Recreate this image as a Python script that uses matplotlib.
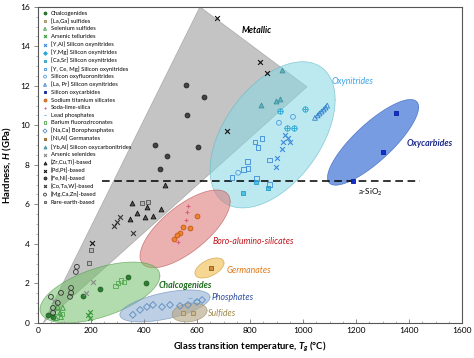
import numpy as np
import matplotlib.pyplot as plt

plt.rcParams['font.family'] = ['Lato', 'DejaVu Sans']
plt.rcParams['mathtext.fontset'] = 'custom'
plt.rcParams['mathtext.rm'] = 'Lato'
plt.rcParams['mathtext.it'] = 'Lato:italic:bold'

# ---- data: glass transition temperature Tg (C) and hardness H (GPa) ----
chalco_T = [340, 408, 234, 170, 38, 57]
chalco_H = [2.33, 2.02, 1.72, 1.37, 0.4, 0.3]
lagas_T = [547, 585]
lagas_H = [0.5, 0.5]
sesulf_T = [75, 94, 83, 87, 68]
sesulf_H = [0.81, 0.76, 0.51, 0.3, 0.25]
astel_T = [196, 189, 196]
astel_H = [0.56, 0.4, 0.25]
yal_T = [932, 943, 925, 951, 921, 902, 898]
yal_H = [9.52, 9.37, 9.16, 9.16, 8.81, 8.35, 7.9]
ymg_T = [913, 1008, 940, 966]
ymg_H = [10.73, 10.84, 9.87, 9.87]
casr_T = [774, 868, 823]
casr_H = [6.58, 6.84, 7.14]
ycemg_T = [819, 845, 830, 872, 789, 774, 792, 732, 823, 872]
ycemg_H = [9.16, 9.32, 8.86, 8.25, 8.15, 7.75, 7.8, 7.34, 7.29, 6.99]
oxyfl_T = [962, 909, 755]
oxyfl_H = [10.43, 10.13, 7.6]
lapr_T = [1045, 1055, 1062, 1070, 1078, 1085, 1091]
lapr_H = [10.38, 10.5, 10.6, 10.7, 10.8, 10.9, 11.0]
oxycarb_T = [1189, 1302, 1351]
oxycarb_H = [7.2, 8.66, 10.63]
natisil_T = [600, 547, 574, 536, 525, 513]
natisil_H = [5.42, 4.86, 4.81, 4.56, 4.46, 4.25]
sls_T = [562, 558, 528, 566]
sls_H = [5.62, 5.22, 4.1, 5.9]
leadp_T = [574, 592, 581]
leadp_H = [1.27, 1.16, 1.01]
bafz_T = [302, 313, 325, 294, 75, 90]
bafz_H = [2.02, 2.13, 2.07, 1.87, 0.55, 0.45]
borop_T = [358, 385, 411, 434, 468, 498, 536, 566, 600, 619]
borop_H = [0.41, 0.66, 0.81, 0.91, 0.81, 0.91, 0.86, 0.91, 1.06, 1.16]
nial_T = [653]
nial_H = [2.78]
ybal_T = [842, 898, 913, 921]
ybal_H = [11.04, 11.24, 11.34, 12.8]
assel_T = [181, 207, 62]
assel_H = [1.5, 2.08, 1.1]
zrcuti_T = [355, 411, 374, 347, 404, 434, 464, 479]
zrcuti_H = [6.08, 5.87, 5.57, 5.27, 5.37, 5.42, 5.77, 6.99]
pdpt_T = [675, 838, 864, 713, 204]
pdpt_H = [15.44, 13.2, 12.65, 9.72, 4.05]
feni_T = [558, 626, 562, 442, 604, 487, 460]
feni_H = [12.05, 11.44, 10.53, 9.01, 8.91, 8.46, 7.8]
cotaw_T = [287, 298, 309, 358]
cotaw_H = [4.91, 5.11, 5.37, 4.56]
mgcazn_T = [147, 143, 49, 87, 125, 125, 121, 75, 57, 57]
mgcazn_H = [2.84, 2.58, 1.32, 1.52, 1.77, 1.52, 1.32, 1.01, 0.76, 0.51]
rare_T = [200, 192, 392, 415]
rare_H = [3.7, 3.04, 6.08, 6.13]

# glass family regions: centre T, centre H, half-range T, half-range H, tilt
oxynitride_reg = [885, 9.52, 236, 3.70, 0.48]
oxycarbide_reg = [1264, 9.14, 172, 2.17, 0.82]
boro_reg = [555, 4.76, 170, 1.97, 0.70]
chalco_reg = [234, 1.54, 226, 1.54, 0.55]
german_reg = [647, 2.78, 55, 0.51, 0.5]
phosph_reg = [479, 0.86, 170, 0.81, 0.55]
sulf_reg = [572, 0.53, 66, 0.48, 0.2]
metallic_T = [20, 611, 1015]
metallic_H = [0.0, 16.0, 11.95]
sio2_H = 7.2
sio2_T_range = [242, 1442]

series = [
    ('Chalcogenides', chalco_T, chalco_H, 'o', '#2e7d32', '#1b5e20'),
    ('[La,Ga] sulfides', lagas_T, lagas_H, 's', '#cdb98f', '#9c8a5c'),
    ('Selenium sulfides', sesulf_T, sesulf_H, '^', 'none', '#3a9a3a'),
    ('Arsenic tellurides', astel_T, astel_H, 'x', '#3a9a3a', '#3a9a3a'),
    ('[Y,Al] Silicon oxynitrides', yal_T, yal_H, 'x', '#3c8ad8', '#3c8ad8'),
    ('[Y,Mg] Silicon oxynitrides', ymg_T, ymg_H, '$\\oplus$', '#2fa9d6', '#2fa9d6'),
    ('[Ca,Sr] Silicon oxynitrides', casr_T, casr_H, 's', '#49c3e6', '#2a9cc0'),
    ('[Y, Ce, Mg] Silicon oxynitrides', ycemg_T, ycemg_H, 's', 'none', '#3c8ad8'),
    ('Silicon oxyfluoronitrides', oxyfl_T, oxyfl_H, 'o', 'none', '#4f9be0'),
    ('[La, Pr] Silicon oxynitrides', lapr_T, lapr_H, '^', 'none', '#2f7fd0'),
    ('Silicon oxycarbides', oxycarb_T, oxycarb_H, 's', '#1230d0', '#0a1f9a'),
    ('Sodium titanium silicates', natisil_T, natisil_H, 'o', '#ec8236', '#c45a12'),
    ('Soda-lime-silica', sls_T, sls_H, '+', '#d9607a', '#d9607a'),
    ('Lead phosphates', leadp_T, leadp_H, '_', '#7fb2e0', '#7fb2e0'),
    ('Barium fluorozirconates', bafz_T, bafz_H, 's', 'none', '#52a852'),
    ('[Na,Ca] Borophosphates', borop_T, borop_H, 'D', 'none', '#5b8bc0'),
    ('[Ni,Al] Germanates', nial_T, nial_H, 's', '#d48a3a', '#8a5a20'),
    ('[Yb,Al] Silicon oxycarbonitrides', ybal_T, ybal_H, '^', '#63b5c2', '#3f8f9c'),
    ('Arsenic selenides', assel_T, assel_H, 'x', '#8a8a8a', '#8a8a8a'),
    ('[Zr,Cu,Ti]-based', zrcuti_T, zrcuti_H, '^', '#555555', '#111111'),
    ('[Pd,Pt]-based', pdpt_T, pdpt_H, 'x', '#111111', '#111111'),
    ('[Fe,Ni]-based', feni_T, feni_H, 'o', '#444444', '#222222'),
    ('[Co,Ta,W]-based', cotaw_T, cotaw_H, 'x', '#333333', '#333333'),
    ('[Mg,Ca,Zn]-based', mgcazn_T, mgcazn_H, 'o', 'none', '#333333'),
    ('Rare-earth-based', rare_T, rare_H, 's', '#b5b5b5', '#555555'),
]


def region(ax, reg, fc, ec, alpha):
    cT, cH, dT, dH, r = reg
    t = np.linspace(0, 2 * np.pi, 200)
    T = cT + dT * np.cos(t)
    H = cH + dH * (r * np.cos(t) + np.sqrt(1 - r * r) * np.sin(t))
    ax.fill(T, H, fc=fc, alpha=alpha, zorder=1, lw=0)
    ax.plot(T, H, color=ec, lw=0.5, alpha=0.7, zorder=1)


fig = plt.figure(figsize=(4.74, 3.58), dpi=100)
ax = fig.add_axes([0.080, 0.098, 0.895, 0.883])

ax.fill(metallic_T, metallic_H, fc='#9e9e9e', alpha=0.6, ec='#8a8a8a', lw=0.5, zorder=1)
region(ax, oxynitride_reg, '#86d8e4', '#5fb7c6', 0.55)
region(ax, oxycarbide_reg, '#3f73d6', '#2c5ab8', 0.7)
region(ax, boro_reg, '#dc7272', '#b85050', 0.55)
region(ax, chalco_reg, '#74c06a', '#4f9a47', 0.55)
region(ax, german_reg, '#f1c15a', '#c8962c', 0.65)
region(ax, phosph_reg, '#86a9cf', '#6689b0', 0.55)
region(ax, sulf_reg, '#b8aa8a', '#968868', 0.65)

ax.plot(sio2_T_range, [sio2_H, sio2_H], ls=(0, (5, 3)), color='black', lw=1.1, zorder=2)

for name, T, H, m, fc, ec in series:
    if m in ('x', '+', '_'):
        ax.scatter(T, H, marker=m, s=12, color=ec, linewidths=0.8, label=name, zorder=3)
    elif m.startswith('$'):
        ax.scatter(T, H, marker=m, s=16, color=ec, linewidths=0.3, label=name, zorder=3)
    else:
        ax.scatter(T, H, marker=m, s=12, facecolors=fc, edgecolors=ec, linewidths=0.6,
                   label=name, zorder=3)

ax.text(826, 14.8, 'Metallic', fontsize=6.3, style='italic', weight='bold', ha='center', va='center')
ax.text(1185, 12.2, 'Oxynitrides', fontsize=6.3, style='italic', color='#3fa3e6', ha='center', va='center')
ax.text(1479, 9.06, 'Oxycarbides', fontsize=6.3, style='italic', weight='bold', color='#1c2a8c',
        ha='center', va='center')
ax.text(1253, 6.63, 'a-SiO$_2$', fontsize=5.8, ha='center', va='center')
ax.text(811, 4.1, 'Boro-alumino-silicates', fontsize=6.3, style='italic', color='#c0161c',
        ha='center', va='center')
ax.text(796, 2.63, 'Germanates', fontsize=6.3, style='italic', color='#e07b1a', ha='center', va='center')
ax.text(555, 1.87, 'Chalcogenides', fontsize=6.3, style='italic', weight='bold', color='#1f6b1f',
        ha='center', va='center')
ax.text(736, 1.27, 'Phosphates', fontsize=6.3, style='italic', color='#2f4f9f', ha='center', va='center')
ax.text(694, 0.5, 'Sulfides', fontsize=6.3, style='italic', color='#a08a4a', ha='center', va='center')

ax.set_xlim(0, 1600)
ax.set_ylim(0, 16)
ax.set_xticks(np.arange(0, 1601, 200))
ax.set_yticks(np.arange(0, 17, 2))
ax.set_xticks(np.arange(0, 1601, 50), minor=True)
ax.set_yticks(np.arange(0, 16.1, 0.5), minor=True)
ax.tick_params(axis='both', which='major', labelsize=6, length=3, width=0.6, color='#777777', pad=3)
ax.tick_params(axis='both', which='minor', length=1.8, width=0.5, color='#999999')
ax.tick_params(axis='x', which='both', direction='in')
for s in ax.spines.values():
    s.set_color('#555555')
    s.set_linewidth(0.8)

ax.set_xlabel('Glass transition temperature, $\\it{T}_g$ (°C)', fontsize=6.8, weight='bold', labelpad=4)
ax.set_ylabel('Hardness, $\\it{H}$ (GPa)', fontsize=6.8, weight='bold', labelpad=4)

ax.legend(loc='upper left', bbox_to_anchor=(0.005, 0.995), frameon=False, fontsize=4.2,
          labelspacing=0.43, handlelength=0.9, handletextpad=0.5, borderaxespad=0.2,
          borderpad=0.2, markerscale=0.6)

fig.savefig('out.png', dpi=100)
